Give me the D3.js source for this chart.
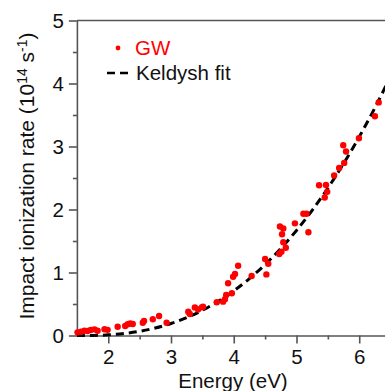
<!DOCTYPE html>
<head>
	<meta charset="utf-8">
	<title>Impact ionization rate</title>
</head>
<style>
body { margin: 0; background: #fff; }
svg text { font-family: "Liberation Sans", Arial, sans-serif; fill: #111; }
.axis path, .axis line { stroke: #555; stroke-width: 1.6px; }
</style>
<svg id="svg" width="385" height="391"></svg>
<script src="https://cdn.jsdelivr.net/npm/d3@7"></script>
<script>

// GW points, energy (eV) and rate (1e14 s^-1)
var gwEnergy = [1.51, 1.565, 1.62, 1.67, 1.72, 1.78, 1.83, 1.94, 1.99, 2.15,
  2.27, 2.31, 2.35, 2.39, 2.55, 2.57, 2.71, 2.81, 2.93,
  3.275, 3.30, 3.38, 3.43, 3.49, 3.51, 3.73, 3.83, 3.86, 3.88, 3.97, 3.91, 3.99, 4.02, 4.07, 4.285,
  4.52, 4.55, 4.50, 4.725, 4.76, 4.83, 4.79, 4.77, 4.79, 4.736, 4.975, 5.19, 5.11, 5.16,
  5.45, 5.49, 5.47, 5.36, 5.60, 5.68, 5.76, 5.79, 5.745, 5.995, 6.25, 6.31];
var gwRate = [0.05, 0.06, 0.076, 0.071, 0.087, 0.098, 0.076, 0.10, 0.09, 0.14,
  0.151, 0.179, 0.19, 0.183, 0.203, 0.23, 0.257, 0.31, 0.203,
  0.378, 0.341, 0.446, 0.414, 0.446, 0.457, 0.527, 0.537, 0.575, 0.643, 0.67, 0.83, 0.933, 0.976, 1.107, 0.944,
  0.97, 1.14, 1.214, 1.294, 1.33, 1.394, 1.48, 1.606, 1.70, 1.73, 1.78, 1.64, 1.933, 1.933,
  2.19, 2.28, 2.39, 2.385, 2.54, 2.66, 2.74, 2.92, 3.02, 3.13, 3.48, 3.70];

// Keldysh fit curve, sampled off the figure
var fitEnergy = [1.5, 1.75, 2.0, 2.25, 2.5, 2.75, 3.0, 3.25, 3.5, 3.75, 4.0,
  4.25, 4.5, 4.75, 5.0, 5.25, 5.5, 5.75, 6.0, 6.25, 6.5];
var fitRate = [0, 0.001, 0.01, 0.031, 0.066, 0.119, 0.19, 0.284, 0.40, 0.541, 0.708,
  0.903, 1.127, 1.381, 1.668, 1.987, 2.34, 2.728, 3.153, 3.614, 4.115];

var xMajor = [2, 3, 4, 5, 6];
var xMinor = [2.5, 3.5, 4.5, 5.5];
var yMajor = [0, 1, 2, 3, 4, 5];
var yMinor = [0.5, 1.5, 2.5, 3.5, 4.5];

var svg = d3.select("svg");
var mLeft = 76.9, mRight = 390.6, mTop = 20.5, mBottom = 335.5;
var fs = "20.5px";

var x = d3.scaleLinear().domain([1.5, 6.5]).range([mLeft, mRight]);
var y = d3.scaleLinear().domain([0, 5]).range([mBottom, mTop]);

// frame (top + right edge, the right one falls off the picture)
svg.append("path")
    .attr("d", "M" + mLeft + "," + mTop + "H" + mRight + "V" + mBottom)
    .attr("fill", "none")
    .attr("stroke", "#555")
    .attr("stroke-width", 1.6);

svg.append("g")
    .attr("class", "axis")
    .attr("transform", "translate(0," + mBottom + ")")
    .call(d3.axisBottom(x).tickValues(xMajor).tickSize(8).tickPadding(6).tickSizeOuter(0).tickFormat(d3.format("d")));
svg.append("g")
    .attr("class", "axis")
    .attr("transform", "translate(0," + mBottom + ")")
    .call(d3.axisBottom(x).tickValues(xMinor).tickSize(4).tickSizeOuter(0).tickFormat(""))
    .select(".domain").remove();

svg.append("g")
    .attr("class", "axis")
    .attr("transform", "translate(" + mLeft + ",0)")
    .call(d3.axisLeft(y).tickValues(yMajor).tickSize(8).tickPadding(5).tickSizeOuter(0).tickFormat(d3.format("d")));
svg.append("g")
    .attr("class", "axis")
    .attr("transform", "translate(" + mLeft + ",0)")
    .call(d3.axisLeft(y).tickValues(yMinor).tickSize(4).tickSizeOuter(0).tickFormat(""))
    .select(".domain").remove();

svg.selectAll(".axis text")
    .style("font-size", fs)
    .attr("fill", "#111");

// fit line
var fitData = fitEnergy.map(function(e, i) { return [e, fitRate[i]]; });
svg.append("path")
    .datum(fitData)
    .attr("fill", "none")
    .attr("stroke", "#000")
    .attr("stroke-width", 3)
    .attr("stroke-dasharray", "8,5")
    .attr("d", d3.line()
        .x(function(d) { return x(d[0]); })
        .y(function(d) { return y(d[1]); })
        .curve(d3.curveMonotoneX));

// GW dots
svg.append("g")
  .selectAll("circle")
  .data(gwEnergy)
  .enter().append("circle")
    .attr("cx", function(d) { return x(d); })
    .attr("cy", function(d, i) { return y(gwRate[i]); })
    .attr("r", 3.2)
    .attr("fill", "#ff0000");

// legend
svg.append("circle")
    .attr("cx", 118).attr("cy", 48).attr("r", 2.4).attr("fill", "#ff0000");
svg.append("text")
    .attr("x", 135).attr("y", 55.3)
    .style("font-size", fs)
    .style("fill", "#ff0000")
    .text("GW");
svg.append("line")
    .attr("x1", 107).attr("x2", 131).attr("y1", 73).attr("y2", 73)
    .attr("stroke", "#000").attr("stroke-width", 2.5).attr("stroke-dasharray", "8,5");
svg.append("text")
    .attr("x", 136).attr("y", 80.3)
    .style("font-size", fs)
    .text("Keldysh fit");

// axis titles
svg.append("text")
    .attr("x", 233).attr("y", 388)
    .attr("text-anchor", "middle")
    .style("font-size", fs)
    .text("Energy (eV)");

var yt = svg.append("text")
    .attr("transform", "translate(34,176) rotate(-90)")
    .attr("text-anchor", "middle")
    .style("font-size", "21px");
yt.append("tspan").text("Impact ionization rate (10");
yt.append("tspan").attr("dy", -7).style("font-size", "14px").text("14");
yt.append("tspan").attr("dy", 7).text(" s");
yt.append("tspan").attr("dy", -7).style("font-size", "14px").text("-1");
yt.append("tspan").attr("dy", 7).text(")");

</script>
